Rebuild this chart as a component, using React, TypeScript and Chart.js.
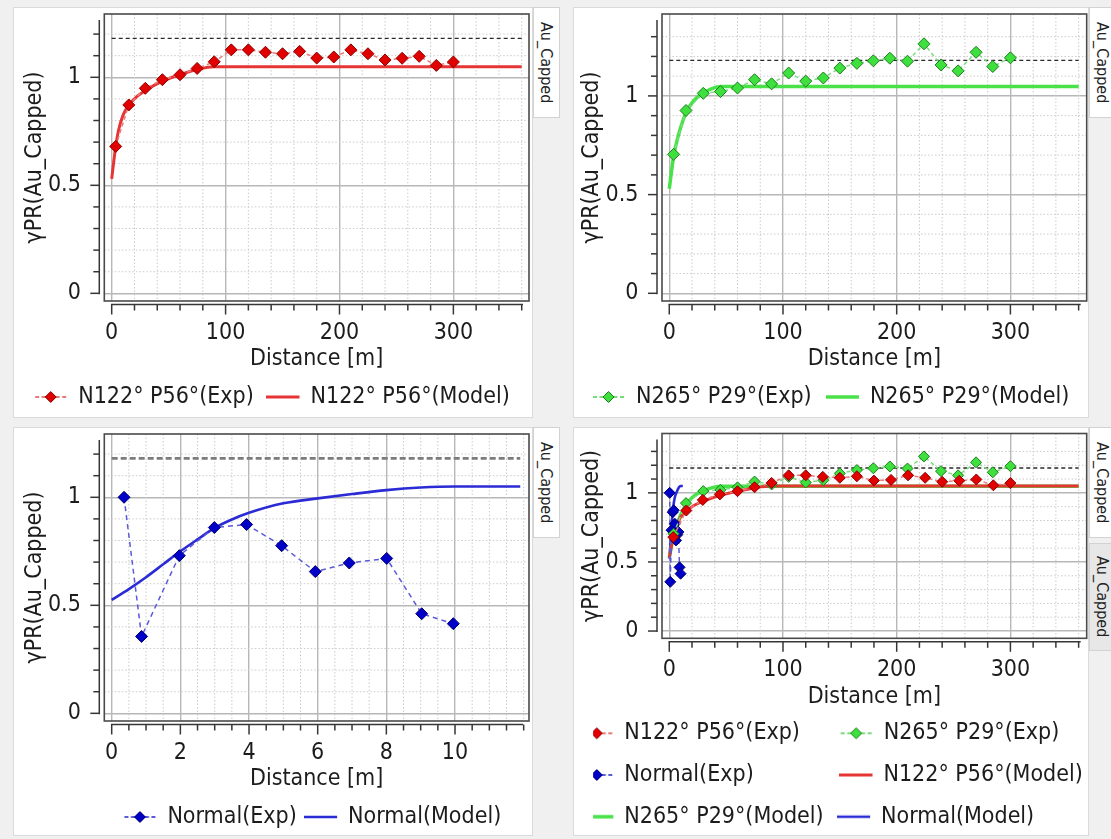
import React, { useEffect, useRef } from 'react';
import { Chart, registerables } from 'chart.js';

Chart.register(...registerables);

const FONT = '"DejaVu Sans Condensed", "DejaVu Sans", "Liberation Sans", sans-serif';
const FS = 23;
Chart.defaults.font.family = FONT;

// ---------------- data ----------------
// N122° P56° experimental variogram
const lagsN122 = [3.5, 15, 29.5, 44.5, 60, 75, 90, 105, 120, 135, 150, 165, 180, 195, 210, 225, 240, 255, 270, 285, 300];
const expN122 = [0.68, 0.872, 0.949, 0.989, 1.012, 1.041, 1.072, 1.127, 1.127, 1.116, 1.109, 1.12, 1.089, 1.094, 1.127, 1.109, 1.08, 1.088, 1.097, 1.055, 1.071];
// N122° P56° model
const modelLagsN122 = [0, 3.5, 6, 10, 15, 22, 30, 45, 60, 75, 90, 360];
const modelN122 = [0.53, 0.68, 0.755, 0.825, 0.872, 0.91, 0.94, 0.983, 1.012, 1.036, 1.049, 1.049];

// N265° P29° experimental variogram
const lagsN265 = [3.8, 14.7, 29.9, 45, 60, 75, 90, 105, 120, 135.5, 150, 165, 179.5, 194, 209.5, 224, 239, 254, 269.8, 284.5, 300];
const expN265 = [0.704, 0.926, 1.013, 1.022, 1.04, 1.082, 1.061, 1.116, 1.075, 1.091, 1.141, 1.165, 1.178, 1.191, 1.176, 1.264, 1.157, 1.127, 1.221, 1.149, 1.193];
// N265° P29° model
const modelLagsN265 = [0, 4, 8, 12, 15, 20, 25, 30, 38, 45, 360];
const modelN265 = [0.53, 0.7, 0.8, 0.875, 0.92, 0.965, 0.995, 1.015, 1.038, 1.048, 1.048];

// Normal experimental variogram
const lagsNormal = [0.36, 0.87, 1.97, 2.99, 3.93, 4.95, 5.93, 6.92, 8.01, 9.03, 9.95];
const expNormal = [1.0, 0.356, 0.73, 0.86, 0.874, 0.776, 0.656, 0.696, 0.717, 0.461, 0.415];
// Normal model
const modelLagsNormal = [0, 0.5, 1, 1.5, 2, 2.5, 3, 3.5, 4, 5, 6, 7, 8, 9, 10, 11.9];
const modelNormal = [0.525, 0.575, 0.63, 0.69, 0.75, 0.805, 0.858, 0.897, 0.928, 0.972, 0.995, 1.015, 1.033, 1.045, 1.05, 1.05];

// sill (variance) reference line
const sillValues = [1.18, 1.18];
const sillLagsMetres = [0, 360];
const sillLagsNormal = [0, 11.9];

// tick labels
const xTickLabelsMetres = [0, 100, 200, 300];
const xTickLabelsNormal = [0, 2, 4, 6, 8, 10];
const yTickLabels = [0, 0.5, 1];

// ---------------- styles ----------------
const RED = { point: '#e00000', edge: '#8e0000', exp: '#ec7b7b', legExp: '#e46a6a', model: '#e53535', modelW: 3 };
const GREEN = { point: '#3ee03e', edge: '#1c7d1c', exp: '#7ddc7d', legExp: '#6bd66b', model: '#48e248', modelW: 3.5 };
const BLUE = { point: '#0000c8', edge: '#00006e', exp: '#5a5ad8', legExp: '#4a4ad2', model: '#2b2bd6', modelW: 2.6 };

const sExpN122 = { label: 'N122° P56°(Exp)', kind: 'exp', xs: lagsN122, ys: expN122, c: RED };
const sModN122 = { label: 'N122° P56°(Model)', kind: 'model', xs: modelLagsN122, ys: modelN122, c: RED };
const sExpN265 = { label: 'N265° P29°(Exp)', kind: 'exp', xs: lagsN265, ys: expN265, c: GREEN };
const sModN265 = { label: 'N265° P29°(Model)', kind: 'model', xs: modelLagsN265, ys: modelN265, c: GREEN };
const sExpNorm = { label: 'Normal(Exp)', kind: 'exp', xs: lagsNormal, ys: expNormal, c: BLUE };
const sModNorm = { label: 'Normal(Model)', kind: 'model', xs: modelLagsNormal, ys: modelNormal, c: BLUE };

const SILL_DARK = { color: '#2a2a2a', width: 1.3, dash: [4, 3] };
const SILL_GRAY = { color: '#7c7c7c', width: 2.6, dash: [6, 3] };

// legend (single row): reference text spans [start1, end1] and [start2, end2]
const PANELS = [
  {
    box: { left: 13, top: 7, width: 520, height: 411 },
    frame: { l: 104.3, t: 12.7, r: 529, b: 301 },
    x: { min: -6.5, max: 366.4, step: 20, major: 100, labels: xTickLabelsMetres },
    y: { min: -0.0355, max: 1.293 },
    series: [sExpN122, sModN122],
    sill: { xs: sillLagsMetres, ...SILL_DARK },
    legend: { rows: 1, spans: [76.7, 255, 311.7, 510], lastRowY: 397 },
    yTitleX: 35, xTitleY: 359, xLabelY: 333.5, r: 6,
  },
  {
    box: { left: 573, top: 7, width: 516, height: 411 },
    frame: { l: 662, t: 12.7, r: 1086.7, b: 301 },
    x: { min: -6.4, max: 367.1, step: 20, major: 100, labels: xTickLabelsMetres },
    y: { min: -0.039, max: 1.415 },
    series: [sExpN265, sModN265],
    sill: { xs: sillLagsMetres, ...SILL_DARK },
    legend: { rows: 1, spans: [634, 811, 869.3, 1069.3], lastRowY: 397 },
    yTitleX: 592, xTitleY: 359, xLabelY: 333.5, r: 6,
  },
  {
    box: { left: 13, top: 427, width: 520, height: 409 },
    frame: { l: 104.3, t: 432.7, r: 529, b: 721 },
    x: { min: -0.2155, max: 12.155, step: 0.5, major: 2, labels: xTickLabelsNormal },
    y: { min: -0.0355, max: 1.293 },
    series: [sExpNorm, sModNorm],
    sill: { xs: sillLagsNormal, ...SILL_GRAY },
    legend: { rows: 1, spans: [160, 276.7, 328, 506.7], lastRowY: 817 },
    yTitleX: 35, xTitleY: 779, xLabelY: 753.5, r: 6,
  },
  {
    box: { left: 573, top: 427, width: 516, height: 409 },
    frame: { l: 662, t: 432.7, r: 1086.7, b: 638.3 },
    x: { min: -6.4, max: 367.1, step: 20, major: 100, labels: xTickLabelsMetres },
    y: { min: -0.0526, max: 1.4297 },
    series: [sExpN122, sExpN265, sExpNorm, sModN122, sModN265, sModNorm],
    sill: { xs: sillLagsMetres, ...SILL_DARK },
    legend: { rows: 3, textStarts: [624.3, 881], rowGap: 41.7, lastRowY: 816.7 },
    yTitleX: 592, xTitleY: 696.7, xLabelY: 670, r: 5.5,
  },
];

const TABS = [
  { left: 533, top: 7, width: 27, height: 111, bg: '#ffffff' },
  { left: 1089, top: 7, width: 27, height: 111, bg: '#ffffff' },
  { left: 533, top: 427, width: 27, height: 111, bg: '#ffffff' },
  { left: 1089, top: 427, width: 27, height: 111, bg: '#ffffff' },
  { left: 1089, top: 543, width: 27, height: 108, bg: '#e7e7e7' },
];

// ---------------- helpers ----------------
const near = (a: number, b: number) => Math.abs(a - b) < 1e-6;
const isMult = (v: number, step: number) => Math.abs(v / step - Math.round(v / step)) < 1e-6;

function legendMarker(kind: string, c: any, r: number) {
  const cv = document.createElement('canvas');
  cv.width = 64;
  cv.height = 24;
  const g = cv.getContext('2d')!;
  const cy = 12;
  if (kind === 'model') {
    g.strokeStyle = c.model;
    g.lineWidth = c.modelW;
    g.beginPath(); g.moveTo(0, cy); g.lineTo(33, cy); g.stroke();
  } else {
    g.strokeStyle = c.legExp;
    g.lineWidth = 1.8;
    g.beginPath(); g.moveTo(1, cy); g.lineTo(5, cy); g.stroke();
    g.beginPath(); g.moveTo(7.5, cy); g.lineTo(11, cy); g.stroke();
    g.beginPath(); g.moveTo(22, cy); g.lineTo(25.5, cy); g.stroke();
    g.beginPath(); g.moveTo(28, cy); g.lineTo(32, cy); g.stroke();
    g.beginPath();
    g.moveTo(16.5 - r, cy); g.lineTo(16.5, cy - r); g.lineTo(16.5 + r, cy); g.lineTo(16.5, cy + r);
    g.closePath();
    g.fillStyle = c.point; g.fill();
    g.strokeStyle = c.edge; g.lineWidth = 1; g.stroke();
  }
  return cv;
}

function zeroPad(s: any) {
  s.paddingLeft = 0; s.paddingRight = 0; s.paddingTop = 0; s.paddingBottom = 0;
}

function makeDecor(cfg: any) {
  const majorX = (v: number) => isMult(v, cfg.x.major) && v <= cfg.x.labels[cfg.x.labels.length - 1] + 1e-6;
  const majorY = (v: number) => isMult(v, 0.5);
  const seg = (ctx: CanvasRenderingContext2D, x1: number, y1: number, x2: number, y2: number) => {
    ctx.beginPath(); ctx.moveTo(x1, y1); ctx.lineTo(x2, y2); ctx.stroke();
  };
  return {
    id: 'decor',
    beforeDatasetsDraw(chart: any) {
      const { ctx, chartArea: a, scales } = chart;
      const x = scales.x, y = scales.y;
      ctx.save();
      ctx.strokeStyle = '#cbcbcb';
      ctx.lineWidth = 1;
      ctx.setLineDash([1.5, 2]);
      x.ticks.forEach((t: any) => {
        if (majorX(t.value)) return;
        const px = x.getPixelForValue(t.value);
        if (px < a.left + 2 || px > a.right - 2) return;
        seg(ctx, px, a.top, px, a.bottom);
      });
      y.ticks.forEach((t: any) => {
        if (majorY(t.value)) return;
        const py = y.getPixelForValue(t.value);
        if (py < a.top + 8 || py > a.bottom - 2) return;
        seg(ctx, a.left, py, a.right, py);
      });
      ctx.restore();
    },
    afterDatasetsDraw(chart: any) {
      const { ctx, chartArea: a, scales } = chart;
      const x = scales.x, y = scales.y;
      ctx.save();
      ctx.setLineDash([]);
      ctx.strokeStyle = '#363636';
      ctx.lineWidth = 1.5;
      // detached y axis
      const ax = a.left - 5;
      seg(ctx, ax, a.top + 6, ax, y.getPixelForValue(0) + 1);
      y.ticks.forEach((t: any) => {
        const py = y.getPixelForValue(t.value);
        if (py < a.top + 8) return;
        seg(ctx, ax - (majorY(t.value) ? 9 : 6), py, ax, py);
      });
      // detached x axis
      const ay = a.bottom + 3.5;
      seg(ctx, x.getPixelForValue(0) - 0.75, ay, a.right - 6, ay);
      x.ticks.forEach((t: any) => {
        const px = x.getPixelForValue(t.value);
        if (px > a.right - 5) return;
        seg(ctx, px, ay, px, ay + (majorX(t.value) ? 10 : 6));
      });
      // plot frame
      ctx.strokeStyle = '#4a4a4a';
      ctx.lineWidth = 1.6;
      ctx.strokeRect(a.left, a.top, a.right - a.left, a.bottom - a.top);
      ctx.restore();
    },
  };
}

function buildChart(canvas: HTMLCanvasElement, cfg: any) {
  const meas = document.createElement('canvas').getContext('2d')!;
  meas.font = `${FS}px ${FONT}`;
  const tw = (s: string) => meas.measureText(s).width;
  const B = 1;
  const HALF = FS / 2;
  const H = 420;
  const CL = cfg.box.left, CT = cfg.box.top;
  const fl = cfg.frame.l - CL, ft = cfg.frame.t - CT, fr = cfg.frame.r - CL, fb = cfg.frame.b - CT;
  const lg = cfg.legend;
  const legendBottom = lg.lastRowY - CT + 10 + HALF;
  const pb = H - legendBottom;

  let texts = cfg.series.map((s: any) => s.label);
  let P: number, W: number, pl: number, align: string;
  if (lg.rows === 1) {
    const [s1, e1, s2, e2] = lg.spans.map((v: number) => v - CL);
    const interGap = s2 - e1;
    P = interGap - B - HALF;
    const tw1 = tw(texts[0]), tw2 = tw(texts[1]);
    const center = (s1 + e2) / 2;
    const t1 = center - (tw1 + interGap + tw2) / 2;
    const x1 = t1 - B - HALF;
    const lineWidth = texts.reduce((acc: number, t: string) => acc + B + HALF + tw(t) + P, 0);
    pl = 0;
    const wEnd = x1 + lineWidth;
    const wCenter = 2 * x1 - P + lineWidth;
    if (wEnd >= fr + 2) {
      W = wEnd;
      align = 'end';
    } else if (wCenter >= fr + 2) {
      W = wCenter;
      align = 'center';
    } else {
      W = fr + 2;
      align = 'center';
    }
  } else {
    P = lg.rowGap - FS;
    const t1 = lg.textStarts[0] - CL, t2 = lg.textStarts[1] - CL;
    const x1 = t1 - B - HALF;
    pl = x1 - P;
    const target = t2 - t1 - P - B - HALF;
    const spaceW = tw(' ');
    texts = texts.map((t: string, i: number) => {
      if (i % 2 === 1) return t;
      let s = t;
      while (tw(s) + spaceW / 2 < target) s += ' ';
      return s;
    });
    let need = 0;
    for (let i = 0; i < texts.length; i += 2) {
      const w1 = B + HALF + tw(texts[i]);
      const w2 = i + 1 < texts.length ? B + HALF + tw(texts[i + 1]) : 0;
      need = Math.max(need, w1 + w2 + 3 * P);
    }
    W = Math.max(fr + 2, pl + need + 4);
    align = 'start';
  }
  const R = W - fr;
  const legendH = lg.rows * (FS + P) + 10;
  const legendTop = legendBottom - legendH;
  const xScaleH = legendTop - fb;
  const xTitlePadBottom = legendTop - (cfg.xTitleY - CT) - HALF;
  const xTickPad = cfg.xLabelY - CT - fb - HALF;
  const yTitlePadTop = cfg.yTitleX - CL - pl - HALF;
  const yTickPad = 23.5;

  const Wc = Math.ceil(W);
  canvas.width = Wc;
  canvas.height = H;
  canvas.style.width = Wc + 'px';
  canvas.style.height = H + 'px';
  const Rc = R + (Wc - W);

  const pts = (xs: number[], ys: number[]) => xs.map((x, i) => ({ x, y: ys[i] }));
  const datasets: any[] = cfg.series.map((s: any) =>
    s.kind === 'exp'
      ? {
          label: s.label,
          data: pts(s.xs, s.ys),
          borderColor: s.c.exp,
          borderWidth: 1.5,
          borderDash: s.c === BLUE ? [5, 4] : [4, 3],
          pointStyle: 'rectRot',
          pointRadius: cfg.r,
          pointBackgroundColor: s.c.point,
          pointBorderColor: s.c.edge,
          pointBorderWidth: 1,
          fill: false,
          tension: 0,
        }
      : {
          label: s.label,
          data: pts(s.xs, s.ys),
          borderColor: s.c.model,
          borderWidth: s.c.modelW,
          pointRadius: 0,
          fill: false,
          cubicInterpolationMode: 'monotone',
        }
  );
  datasets.push({
    label: 'sill',
    data: pts(cfg.sill.xs, sillValues),
    borderColor: cfg.sill.color,
    borderWidth: cfg.sill.width,
    borderDash: cfg.sill.dash,
    pointRadius: 0,
    fill: false,
  });

  const markers = cfg.series.map((s: any) => legendMarker(s.kind, s.c, 5.5));
  const labelMax = cfg.x.labels[cfg.x.labels.length - 1];
  const majorX = (v: number) => isMult(v, cfg.x.major) && v <= labelMax + 1e-6;
  const tickFont = { family: FONT, size: FS, lineHeight: 1 };

  return new Chart(canvas, {
    type: 'line',
    data: { datasets },
    plugins: [makeDecor(cfg)],
    options: {
      animation: false,
      responsive: false,
      events: [],
      layout: { padding: { left: pl, top: ft, right: 0, bottom: pb } },
      scales: {
        x: {
          type: 'linear',
          position: 'bottom',
          min: cfg.x.min,
          max: cfg.x.max,
          border: { display: false },
          grid: {
            drawTicks: false,
            lineWidth: 1.4,
            color: (c: any) => (c.tick && majorX(c.tick.value) ? '#b7b7b7' : 'rgba(0,0,0,0)'),
          },
          ticks: {
            stepSize: cfg.x.step,
            includeBounds: false,
            autoSkip: false,
            maxRotation: 0,
            minRotation: 0,
            padding: xTickPad,
            font: tickFont,
            color: '#1c1c1c',
            callback: (v: any) => (cfg.x.labels.some((t: number) => near(t, v)) ? String(v) : ''),
          },
          title: {
            display: true,
            text: 'Distance [m]',
            font: tickFont,
            color: '#1c1c1c',
            padding: { top: 0, bottom: xTitlePadBottom },
          },
          afterFit: (s: any) => { s.height = xScaleH; zeroPad(s); },
        },
        y: {
          type: 'linear',
          position: 'left',
          min: cfg.y.min,
          max: cfg.y.max,
          border: { display: false },
          grid: {
            drawTicks: false,
            lineWidth: 1.4,
            color: (c: any) => (c.tick && isMult(c.tick.value, 0.5) ? '#b7b7b7' : 'rgba(0,0,0,0)'),
          },
          ticks: {
            stepSize: 0.1,
            includeBounds: false,
            autoSkip: false,
            padding: yTickPad,
            font: tickFont,
            color: '#1c1c1c',
            callback: (v: any) => (yTickLabels.some((t) => near(t, v)) ? String(Math.round(v * 10) / 10) : ''),
          },
          title: {
            display: true,
            text: 'γPR(Au_Capped)',
            font: tickFont,
            color: '#1c1c1c',
            padding: { top: yTitlePadTop, bottom: 0 },
          },
          afterFit: (s: any) => { s.width = fl - pl; zeroPad(s); },
        },
        yR: {
          type: 'linear',
          position: 'right',
          display: true,
          grid: { display: false },
          ticks: { display: false },
          border: { display: false },
          afterFit: (s: any) => { s.width = Rc; zeroPad(s); },
        },
      },
      plugins: {
        tooltip: { enabled: false },
        legend: {
          display: true,
          position: 'bottom',
          align: align as any,
          labels: {
            usePointStyle: true,
            pointStyleWidth: B,
            padding: P,
            font: { family: FONT, size: FS },
            color: '#1c1c1c',
            generateLabels: () =>
              cfg.series.map((s: any, i: number) => ({
                text: texts[i],
                pointStyle: markers[i],
                fillStyle: 'rgba(0,0,0,0)',
                strokeStyle: 'rgba(0,0,0,0)',
                lineWidth: 0,
                hidden: false,
                datasetIndex: i,
                fontColor: '#1c1c1c',
              })),
          },
        },
      },
    } as any,
  });
}

function PanelCanvas({ cfg }: { cfg: any }) {
  const ref = useRef<HTMLCanvasElement>(null);
  useEffect(() => {
    const chart = buildChart(ref.current!, cfg);
    return () => chart.destroy();
  }, [cfg]);
  return (
    <canvas
      ref={ref}
      style={{ position: 'absolute', left: cfg.box.left, top: cfg.box.top, display: 'block' }}
    />
  );
}

export default function App() {
  return (
    <div
      style={{
        position: 'absolute',
        left: 0,
        top: 0,
        width: 1111,
        height: 839,
        background: '#f0f0f0',
        overflow: 'hidden',
        fontFamily: FONT,
      }}
    >
      {PANELS.map((p, i) => (
        <div
          key={'bg' + i}
          style={{
            position: 'absolute',
            left: p.box.left,
            top: p.box.top,
            width: p.box.width,
            height: p.box.height,
            background: '#ffffff',
            border: '1px solid #dadada',
            boxSizing: 'border-box',
          }}
        />
      ))}
      {PANELS.map((p, i) => (
        <PanelCanvas key={'c' + i} cfg={p} />
      ))}
      {TABS.map((t, i) => (
        <div
          key={'t' + i}
          style={{
            position: 'absolute',
            left: t.left,
            top: t.top,
            width: t.width,
            height: t.height,
            background: t.bg,
            border: '1px solid #d2d2d2',
            boxSizing: 'border-box',
            display: 'flex',
            alignItems: 'center',
            justifyContent: 'center',
          }}
        >
          <span style={{ writingMode: 'vertical-rl', fontSize: 16, color: '#222', fontFamily: FONT }}>Au_Capped</span>
        </div>
      ))}
    </div>
  );
}
